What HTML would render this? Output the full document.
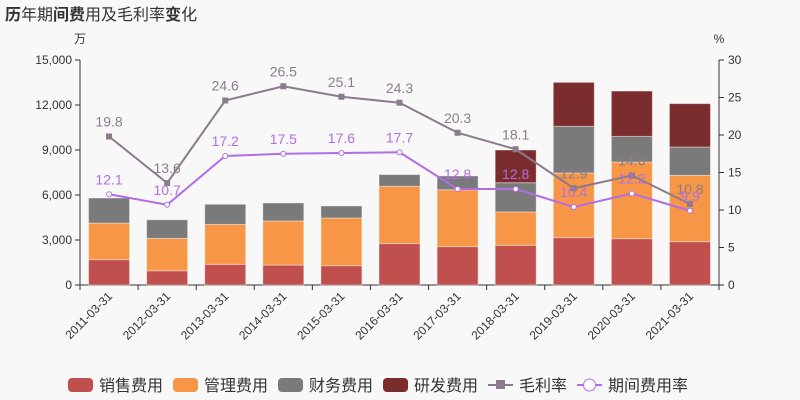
<!DOCTYPE html><html><head><meta charset="utf-8"><style>
body{margin:0;background:#f8f8f8;font-family:"Liberation Sans","Noto Sans CJK SC",sans-serif}
svg{display:block}
</style></head><body>
<svg width="800" height="400" id="c">
<text x="5" y="20" font-size="16" fill="#333" font-family="Liberation Sans,Noto Sans CJK SC,sans-serif"><tspan font-weight="bold">历</tspan>年期<tspan font-weight="bold">间费</tspan>用及毛利率<tspan font-weight="bold">变</tspan>化</text>
<text x="80" y="43" font-size="12" fill="#333" text-anchor="middle">万</text>
<text x="719" y="43" font-size="12" fill="#333" text-anchor="middle">%</text>
<g id="g"></g>
</svg>
<script>
const categories=["2011-03-31","2012-03-31","2013-03-31","2014-03-31","2015-03-31","2016-03-31","2017-03-31","2018-03-31","2019-03-31","2020-03-31","2021-03-31"];
const sales=[1690,950,1380,1330,1290,2760,2560,2650,3160,3090,2890];
const mgmt=[2440,2160,2660,2940,3180,3820,3790,2220,4310,5110,4420];
const fin=[1670,1240,1340,1200,800,780,920,1950,3110,1710,1890];
const rd=[0,0,0,0,0,0,0,2180,2930,3020,2890];
const grossMargin=[19.8,13.6,24.6,26.5,25.1,24.3,20.3,18.1,12.9,14.6,10.8];
const periodRate=[12.1,10.7,17.2,17.5,17.6,17.7,12.8,12.8,10.4,12.2,9.9];
const leftTicks=[0,3000,6000,9000,12000,15000];
const rightTicks=[0,5,10,15,20,25,30];
const NS="http://www.w3.org/2000/svg";
const g=document.getElementById('g');
const X0=80,X1=719,Y0=285,Y1=60;
const band=(X1-X0)/categories.length;
const xc=i=>X0+band*(i+0.5);
const yL=v=>Y0-(v/15000)*(Y0-Y1);
const yR=v=>Y0-(v/30)*(Y0-Y1);
function mk(t,a,p){const e=document.createElementNS(NS,t);for(const k in a)e.setAttribute(k,a[k]);(p||g).appendChild(e);return e;}
// axes
let e=mk('line',{x1:X0,y1:Y1,x2:X0,y2:Y0,stroke:'#333'});

e=mk('line',{x1:X1,y1:Y1,x2:X1,y2:Y0,stroke:'#333'});

e=mk('line',{x1:X0,y1:Y0,x2:X1,y2:Y0,stroke:'#333'});

leftTicks.forEach(v=>{mk('line',{x1:X0-5,x2:X0,y1:yL(v),y2:yL(v),stroke:'#333'});
 const t=mk('text',{x:X0-8,y:yL(v)+4,'font-size':12,fill:'#333','text-anchor':'end'});t.textContent=v.toLocaleString('en-US');
 });
rightTicks.forEach(v=>{mk('line',{x1:X1,x2:X1+5,y1:yR(v),y2:yR(v),stroke:'#333'});
 const t=mk('text',{x:X1+9,y:yR(v)+4,'font-size':12,fill:'#333'});t.textContent=v;
 });
for(let i=0;i<=categories.length;i++)mk('line',{x1:X0+band*i,x2:X0+band*i,y1:Y0,y2:Y0+5,stroke:'#333'});
categories.forEach((c,i)=>{const t=mk('text',{x:xc(i)+4,y:Y0+12,'font-size':12,fill:'#333','text-anchor':'end',transform:`rotate(-45 ${xc(i)+4} ${Y0+12})`});t.textContent=c;
 });
// bars
const series=[[sales,'#c0504d','sales'],[mgmt,'#f79646','mgmt'],[fin,'#7a7a7a','finance'],[rd,'#7b2c2c','rd']];
const bw=41;
categories.forEach((c,i)=>{let acc=0;series.forEach(([arr,col,n])=>{const v=arr[i];if(v<=0)return;
 const r=mk('rect',{x:xc(i)-bw/2,y:yL(acc+v),width:bw,height:yL(acc)-yL(acc+v),fill:col,stroke:'rgba(255,255,255,0.4)','stroke-width':1});
 acc+=v;});});
// lines
function line(arr,col,name,sq){
 const p=mk('polyline',{points:arr.map((v,i)=>xc(i)+','+yR(v)).join(' '),fill:'none',stroke:col,'stroke-width':2});
 
 arr.forEach((v,i)=>{let m;
  if(sq)m=mk('rect',{x:xc(i)-3,y:yR(v)-3,width:6,height:6,fill:col});
  else m=mk('circle',{cx:xc(i),cy:yR(v),r:2.5,fill:'#fff',stroke:col,'stroke-width':1});
  
  const t=mk('text',{x:xc(i),y:yR(v)-10,'font-size':14,fill:col,'text-anchor':'middle'});t.textContent=v;
  });
}
line(grossMargin,'#8c7b8c','gross-margin',true);
line(periodRate,'#b06ee6','period-rate',false);
// legend
const leg=[['销售费用','#c0504d','r'],['管理费用','#f79646','r'],['财务费用','#7a7a7a','r'],['研发费用','#7b2c2c','r'],['毛利率','#8c7b8c','sq'],['期间费用率','#b06ee6','c']];
let lx=68;
leg.forEach(([t,col,k])=>{const gg=mk('g',{});
 
 if(k=='r')mk('rect',{x:lx,y:378,width:25,height:14,rx:4,fill:col},gg);
 else{mk('line',{x1:lx,x2:lx+25,y1:385,y2:385,stroke:col,'stroke-width':2},gg);
  if(k=='sq')mk('rect',{x:lx+8,y:380,width:9,height:9,fill:col},gg);
  else mk('circle',{cx:lx+12.5,cy:385,r:6,fill:'#fff',stroke:col},gg);}
 const tx=mk('text',{x:lx+31,y:391,'font-size':16,fill:'#333'},gg);tx.textContent=t;
 lx+=31+t.length*16+10;});
</script>
</body></html>
